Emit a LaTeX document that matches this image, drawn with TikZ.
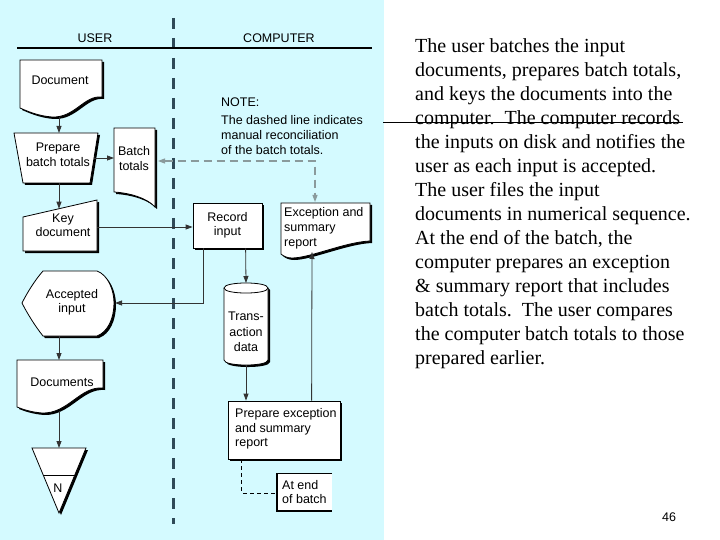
\documentclass[tikz,border=0pt]{standalone}
\usepackage{fontspec}
\setmainfont{Liberation Serif}
\setsansfont{Liberation Sans}
\usetikzlibrary{arrows.meta}
\definecolor{panel}{HTML}{D4FAFF}
\definecolor{divider}{HTML}{2F4A58}
\definecolor{recon}{HTML}{8A9A9C}
\begin{document}
\begin{tikzpicture}[x=1pt,y=-1pt,
  shp/.style={fill=white,draw=black,line width=0.8pt,line join=miter,
    preaction={fill=black,transform canvas={xshift=2pt,yshift=-2pt}}},
  lbl/.style={font=\sffamily\fontsize{12.5}{14.5}\selectfont,inner sep=0pt,align=center},
  conn/.style={draw=black!80,line width=0.8pt,-{Triangle[length=7pt,width=5pt]}},
  reconline/.style={draw=recon,line width=1.1pt,dash pattern=on 8pt off 5pt,
    {Triangle[length=7pt,width=5pt]}-{Triangle[length=7pt,width=5pt]}},
  annodash/.style={draw=black,line width=0.7pt,dash pattern=on 4pt off 3pt},
]
\useasboundingbox (0,0) rectangle (720,540);
\fill[white] (0,0) rectangle (720,540);
\fill[panel] (0,0) rectangle (384,540);

% swimlane divider and header
\draw[divider,line width=2.7pt,dash pattern=on 11pt off 9pt] (173.5,18) -- (173.5,524);
\draw[black,line width=1.2pt] (17,48) -- (372,48);
\node[lbl] (user) at (95,38) {USER};
\node[lbl] (computer) at (279,38) {COMPUTER};

% Document
\path[shp] (20,60) -- (102,60) -- (102,97) .. controls (84,95) and (75,118) .. (52,117)
  .. controls (38,116) and (27,111) .. (20,108) -- cycle;
\node[lbl] (tdoc) at (60,80) {Document};
\coordinate (docS) at (59,117);

% Prepare batch totals (manual operation)
\path[shp] (14,133) -- (98,133) -- (90,183) -- (23,183) -- cycle;
\node[lbl] (tprep) at (58,155) {Prepare\\batch totals};
\coordinate (prepN) at (59,133);
\coordinate (prepE) at (94,158);
\coordinate (prepS) at (59,183);

% Batch totals (document)
\path[shp] (114,128) -- (155,128) -- (155,207) .. controls (147,198) and (130,193) .. (114,192) -- cycle;
\node[lbl] (tbat) at (134,158.5) {Batch\\totals};
\coordinate (batW) at (114,158);
\coordinate (batE) at (158,161);

% Key document (manual input)
\path[shp] (23,217) -- (97,200) -- (97,251) -- (23,251) -- cycle;
\node[lbl] (tkey) at (63,225.5) {Key\\document};
\coordinate (keyN) at (59,208.7);
\coordinate (keyE) at (97,227);

% Record input
\node[lbl,shp,minimum width=69pt,minimum height=45pt] (rec) at (227.5,225.5) {Record\\input};

% Exception and summary report (document)
\path[shp] (281,203) -- (370,203) -- (370,241) .. controls (345,242) and (310,258) .. (292,258)
  .. controls (287,258) and (283,256) .. (281,254) -- cycle;
\node[lbl,anchor=west,align=left,font=\sffamily\fontsize{12.5}{15}\selectfont] (texc) at (284,228) {Exception and\\summary\\report};
\coordinate (excN) at (315,202);
\coordinate (excS) at (312,252);

% NOTE
\node[lbl,anchor=west,align=left,font=\sffamily\fontsize{12.5}{15}\selectfont] (note) at (221,126)
  {NOTE:\\[3pt]The dashed line indicates\\manual reconciliation\\of the batch totals.};

% Accepted input (display)
\path[shp] (22,303) .. controls (27,293) and (35,280) .. (43,271) -- (97,271)
  .. controls (108,275) and (114,290) .. (114,303) .. controls (114,318) and (108,332) .. (97,336)
  -- (43,336) .. controls (35,326) and (27,313) .. (22,303) -- cycle;
\node[lbl] (tacc) at (72,302.5) {Accepted\\input};
\coordinate (accE) at (115,303);
\coordinate (accS) at (59,336);

% Documents (document)
\path[shp] (17,360) -- (103,360) -- (103,388) .. controls (80,386) and (68,414) .. (42,413)
  .. controls (30,412) and (22,409) .. (17,407) -- cycle;
\node[lbl] (tdocs) at (62,382) {Documents};
\coordinate (docsN) at (59,360);
\coordinate (docsS) at (59,411);

% Offline storage
\path[shp] (32,448) -- (86,448) -- (59,513) -- cycle;
\draw[line width=0.8pt] (43.2,475) -- (74.8,475);
\node[lbl] (tn) at (58,488) {N};
\coordinate (triN) at (59,448);

% Transaction data (disk)
\path[shp] (224,288) -- (224,360) .. controls (224,366.7) and (268,366.7) .. (268,360)
  -- (268,288) .. controls (268,281.3) and (224,281.3) .. (224,288) -- cycle;
\draw[line width=0.8pt] (224,288) .. controls (224,294.7) and (268,294.7) .. (268,288);
\node[lbl,font=\sffamily\fontsize{12.5}{15.5}\selectfont] (tcyl) at (246,332) {Trans-\\action\\data};
\coordinate (cylN) at (246,283);
\coordinate (cylS) at (246,365);

% Prepare exception and summary report
\node[shp,minimum width=112pt,minimum height=58pt,inner sep=0pt] (pe) at (284,430) {};
\node[lbl,anchor=west,align=left] (tpe) at (235,429) {Prepare exception\\and summary\\report};

% At end of batch (annotation)
\fill[white] (276,473) rectangle (332,510);
\draw[line width=0.8pt] (332,473) -- (276,473) -- (276,510) -- (332,510);
\draw[line width=1.6pt] (277,473) -- (277,511) -- (332,511);
\node[lbl,anchor=west,align=left] (tend) at (282,492) {At end\\of batch};
\coordinate (endW) at (276,493);

% connectors
\draw[conn] (docS) -- (prepN);
\draw[conn] (prepE) -- (batW);
\draw[conn] (prepS) -- (keyN);
\draw[conn] (keyE) -- (keyE -| rec.west);
\draw[conn] ([xshift=11pt]rec.south west) |- (accE);
\draw[conn] ([xshift=53pt]rec.south west) -- (cylN);
\draw[conn] (accS) -- (docsN);
\draw[conn] (docsS) -- (triN);
\draw[conn] (cylS) -- (cylS |- pe.north);
\draw[conn] ([xshift=84pt]pe.north west) -- (excS);
\draw[reconline] (batE) -| (excN);
\draw[annodash] ([xshift=14pt]pe.south west) |- (endW);

% right-hand text
\node[anchor=north west,inner sep=0pt,align=left,font=\fontsize{20}{24}\selectfont] (para) at (415,38.5)
{The user batches the input\\
documents, prepares batch totals,\\
and keys the documents into the\\
computer.\ \ The computer records\\
the inputs on disk and notifies the\\
user as each input is accepted.\\
The user files the input\\
documents in numerical sequence.\\
At the end of the batch, the\\
computer prepares an exception\\
\& summary report that includes\\
batch totals.\ \ The user compares\\
the computer batch totals to those\\
prepared earlier.};
\draw[black,line width=1pt] (383,123) -- (683,123);
\node[font=\sffamily\fontsize{12.5}{14}\selectfont,inner sep=0pt] (pageno) at (669,517) {46};
\end{tikzpicture}
\end{document}
